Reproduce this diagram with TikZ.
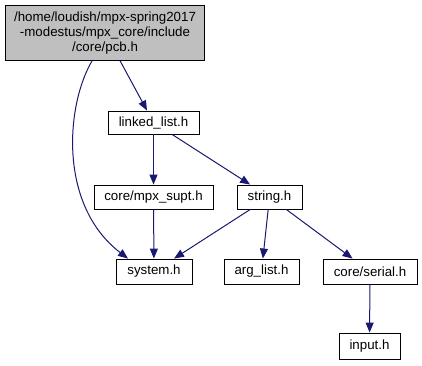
\documentclass[tikz,border=0pt]{standalone}
\usepackage{fontspec}
\setmainfont{Liberation Sans}
\usetikzlibrary{arrows.meta}
\definecolor{edgeblue}{HTML}{191970}
\definecolor{rootgray}{HTML}{BFBFBF}
\begin{document}
\begin{tikzpicture}[x=1pt,y=-1pt,
  file/.style={draw=black,line width=0.9pt,fill=white,inner sep=0pt,
    font=\fontsize{13.3}{14.8}\selectfont,align=center},
  dep/.style={draw=edgeblue,line width=1pt,
    -{Triangle[length=10pt,width=8pt]}}]
\useasboundingbox (0,0) rectangle (422,365);
% header files
\node[file,fill=rootgray,minimum width=199pt,minimum height=55pt] (pcb) at (105,33)
  {/home/loudish/mpx-spring2017\\-modestus/mpx\_core/include\hspace*{4pt}\\/core/pcb.h};
\node[file,minimum width=91pt,minimum height=23pt] (linked) at (153.5,122.5) {linked\_list.h};
\node[file,minimum width=119pt,minimum height=24pt] (supt) at (153.5,197) {core/mpx\_supt.h};
\node[file,minimum width=65pt,minimum height=24pt] (string) at (269.5,197) {string.h};
\node[file,minimum width=76pt,minimum height=25pt] (system) at (154,271.5) {system.h};
\node[file,minimum width=75pt,minimum height=25pt] (arglist) at (261.5,271.5) {arg\_list.h};
\node[file,minimum width=94pt,minimum height=25pt] (serial) at (370,271.5) {core/serial.h};
\node[file,minimum width=61pt,minimum height=26pt] (input) at (369.5,346) {input.h};
% include dependencies
\draw[dep] (pcb) -- (linked);
\draw[dep] (pcb.south -| 92,0) .. controls (66,105) and (58,205) .. ([xshift=-26pt]system.north);
\draw[dep] (linked) -- (supt);
\draw[dep] (linked) -- (string);
\draw[dep] (supt) -- (system);
\draw[dep] (string) -- (system);
\draw[dep] (string) -- (arglist);
\draw[dep] (string) -- (serial);
\draw[dep] (serial) -- (input);
\end{tikzpicture}
\end{document}
